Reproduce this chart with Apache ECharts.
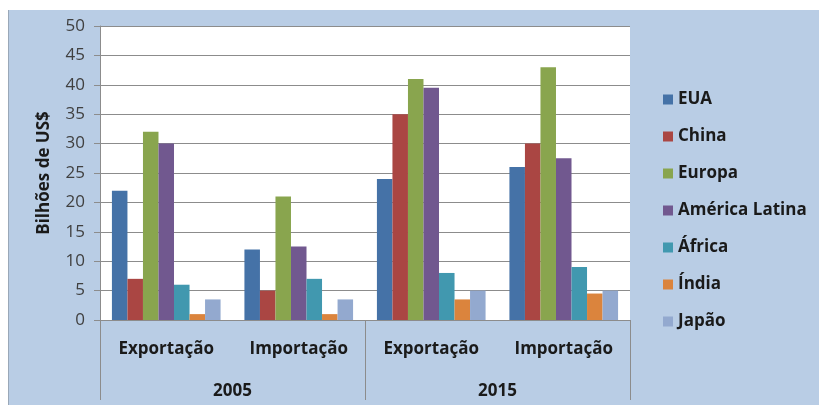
<!DOCTYPE html>
<html>
<head>
<meta charset="utf-8">
<script src="https://cdn.jsdelivr.net/npm/echarts@6/dist/echarts.min.js"></script>
<style>
  html, body { margin: 0; padding: 0; background: #ffffff; }
  #panel { position: absolute; left: 8px; top: 10px; right: 0; bottom: 0; background: #b9cde5; border-left: 1px solid #9aa8b8; }
  #chart { position: absolute; left: 0; top: 0; width: 819px; height: 405px; }
</style>
</head>
<body>
<div id="panel"></div>
<div id="chart"></div>
<script>
const categories = ['Exportação', 'Importação', 'Exportação', 'Importação'];
const years = ['2005', '2015'];
const seriesNames = ['EUA', 'China', 'Europa', 'América Latina', 'África', 'Índia', 'Japão'];
const EUA = [22, 12, 24, 26];
const China = [7, 5, 35, 30];
const Europa = [32, 21, 41, 43];
const AmericaLatina = [30, 12.5, 39.5, 27.5];
const Africa = [6, 7, 8, 9];
const India = [1, 1, 3.5, 4.5];
const Japao = [3.5, 3.5, 5, 5];
const seriesValues = [EUA, China, Europa, AmericaLatina, Africa, India, Japao];
const colors = ['#4572a7', '#aa4643', '#89a54e', '#71588f', '#4198af', '#db843d', '#93a9cf'];

const font = '"Open Sans", Lato, "DejaVu Sans", sans-serif';
const chart = echarts.init(document.getElementById('chart'), null, { renderer: 'canvas' });
chart.setOption({
  backgroundColor: 'transparent',
  animation: false,
  color: colors,
  textStyle: { fontFamily: font },
  grid: { left: 100, right: 189, top: 26, bottom: 85, show: true, backgroundColor: '#ffffff', borderWidth: 0 },
  legend: {
    orient: 'vertical', left: 658, top: 86,
    itemWidth: 10, itemHeight: 10, itemGap: 20, icon: 'rect',
    textStyle: { fontSize: 17, fontWeight: 'bold', color: '#1a1a1a', fontFamily: font },
    data: seriesNames
  },
  xAxis: [
    {
      type: 'category', data: categories, position: 'bottom',
      axisLine: { show: true, lineStyle: { color: '#8c8c8c', width: 1 } },
      axisTick: { show: false },
      axisLabel: { margin: 21, fontSize: 17, fontWeight: 'bold', color: '#1a1a1a', fontFamily: font, interval: 0 }
    },
    {
      type: 'category', data: years, position: 'bottom',
      axisLine: { show: false },
      axisTick: { show: true, length: 80, lineStyle: { color: '#8c8c8c', width: 1 } },
      axisLabel: { margin: 63, fontSize: 17, fontWeight: 'bold', color: '#1a1a1a', fontFamily: font }
    }
  ],
  yAxis: {
    type: 'value', min: 0, max: 50, interval: 5,
    name: 'Bilhões de US$', nameLocation: 'middle', nameGap: 47, nameRotate: 90,
    nameTextStyle: { fontSize: 17, fontWeight: 'bold', color: '#1a1a1a', fontFamily: font },
    axisLine: { show: true, lineStyle: { color: '#8c8c8c', width: 1 } },
    axisTick: { show: true, length: 6, lineStyle: { color: '#8c8c8c' } },
    axisLabel: { margin: 15, fontSize: 17, color: '#404040', fontFamily: font },
    splitLine: { show: true, lineStyle: { color: '#8c8c8c', width: 1 } }
  },
  series: seriesNames.map((n, i) => ({
    name: n, type: 'bar', xAxisIndex: 0, data: seriesValues[i],
    barGap: '0%', barCategoryGap: '18%'
  }))
});
</script>
</body>
</html>
